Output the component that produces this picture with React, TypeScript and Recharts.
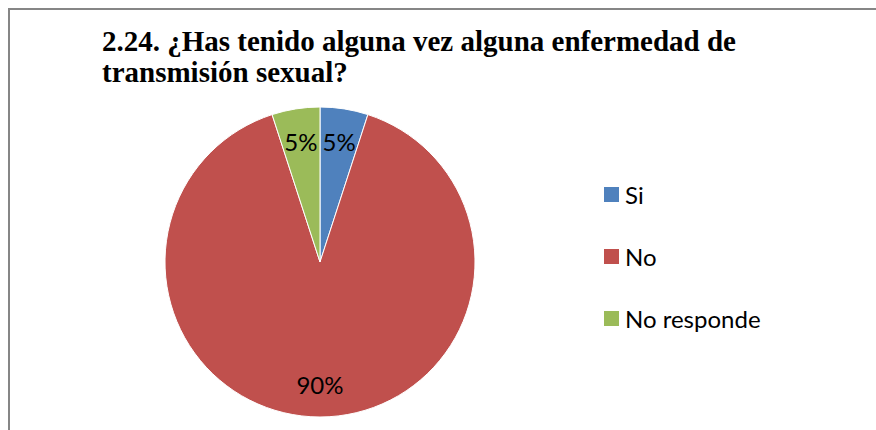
import { PieChart, Pie, Cell } from 'recharts';

const categories = ['Si', 'No', 'No responde'];
const values = [5, 90, 5];
const colors = ['#4f81bd', '#c0504d', '#9bbb59'];

const data = categories.map((name, i) => ({ name, value: values[i] }));

const RADIAN = Math.PI / 180;

function renderLabel(props: any) {
  const { cx, cy, midAngle, outerRadius, percent } = props;
  const r = outerRadius * 0.79;
  const x = cx + r * Math.cos(-midAngle * RADIAN);
  const y = cy + r * Math.sin(-midAngle * RADIAN);
  return (
    <text x={x} y={y} fill="#000" textAnchor="middle" dominantBaseline="central"
      fontFamily="Lato, sans-serif" fontSize={24}>
      {`${Math.round(percent * 100)}%`}
    </text>
  );
}

function ChartLegend() {
  return (
    <div style={{ position: 'absolute', left: 594, top: 153 }}>
      {categories.map((name, i) => (
        <div key={name} style={{ display: 'flex', alignItems: 'center', height: 62 }}>
          <span style={{ width: 15, height: 15, background: colors[i], marginRight: 6, display: 'inline-block' }} />
          <span style={{ fontFamily: 'Lato, sans-serif', fontSize: 24, color: '#000' }}>{name}</span>
        </div>
      ))}
    </div>
  );
}

export default function App() {
  return (
    <div style={{ position: 'fixed', left: 8, top: 8, width: 866, height: 420, overflow: 'hidden', borderLeft: '2px solid #868686', borderTop: '2px solid #868686', background: '#fff' }}>
      <div style={{ position: 'absolute', left: 92, top: 16, fontFamily: "'Liberation Serif', serif", fontWeight: 'bold', fontSize: 29, lineHeight: '31px', color: '#000', zIndex: 1, whiteSpace: 'nowrap' }}>
        2.24. ¿Has tenido alguna vez alguna enfermedad de<br />transmisión sexual?
      </div>
      <PieChart width={760} height={420} margin={{ top: 0, right: 0, bottom: 0, left: 0 }}>
        <Pie
          data={data}
          dataKey="value"
          nameKey="name"
          cx={310}
          cy={252}
          outerRadius={155}
          startAngle={90}
          endAngle={-270}
          stroke="#fff"
          strokeWidth={1}
          label={renderLabel}
          labelLine={false}
          isAnimationActive={false}
        >
          {data.map((d, i) => (
          <Cell key={d.name} fill={colors[i]} />
          ))}
        </Pie>
      </PieChart>
      <ChartLegend />
    </div>
  );
}
